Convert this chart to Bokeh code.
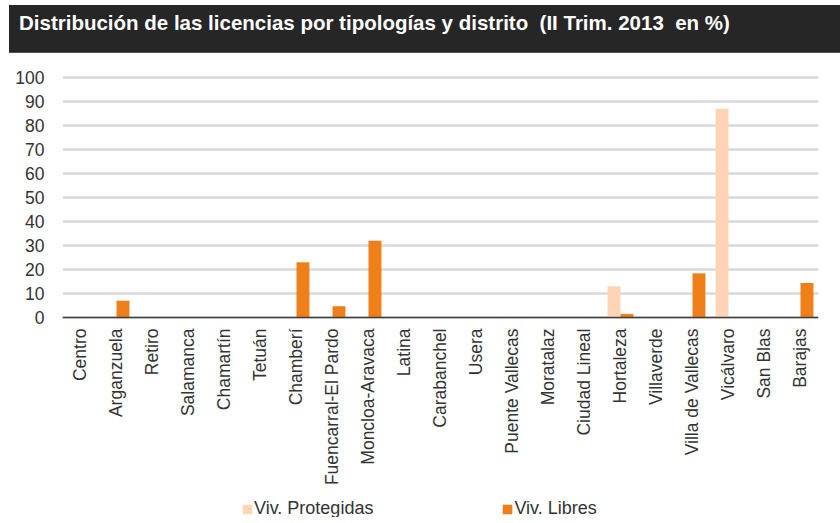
import math
from bokeh.plotting import figure
from bokeh.models import (ColumnDataSource, FactorRange, Legend, LegendItem,
                          Div, FixedTicker, Range1d)
from bokeh.transform import dodge
from bokeh.layouts import column
from bokeh.embed import file_html
from bokeh.resources import INLINE

title_text = "Distribución de las licencias por tipologías y distrito  (II Trim. 2013  en %)"

districts = ["Centro", "Arganzuela", "Retiro", "Salamanca", "Chamartín", "Tetuán",
             "Chamberí", "Fuencarral-El Pardo", "Moncloa-Aravaca", "Latina",
             "Carabanchel", "Usera", "Puente Vallecas", "Moratalaz", "Ciudad Lineal",
             "Hortaleza", "Villaverde", "Villa de Vallecas", "Vicálvaro", "San Blas",
             "Barajas"]
protegidas = [0, 0, 0, 0, 0, 0, 0, 0, 0, 0, 0, 0, 0, 0, 0, 13.0, 0, 0, 87.0, 0, 0]
libres = [0, 7.0, 0, 0, 0, 0, 23.0, 4.7, 32.0, 0, 0, 0, 0, 0, 0, 1.5, 0, 18.4, 0, 0, 14.4]
series_names = ["Viv. Protegidas", "Viv. Libres"]
y_ticks = [0, 10, 20, 30, 40, 50, 60, 70, 80, 90, 100]
colors = ["#FCD5B4", "#EF7F1A"]

FONT = "Liberation Sans"

src = ColumnDataSource(dict(district=districts, prot=protegidas, lib=libres))

header = Div(
    text=f'<div style="margin-left:4px;width:836px;height:48px;box-sizing:border-box;'
         f'background-color:#262626;border-bottom:1px solid #555555;padding-left:10px;'
         f'line-height:36px;white-space:pre;font-family:\'{FONT}\',Arial,sans-serif;'
         f'font-size:20.5px;font-weight:bold;color:#ffffff;">{title_text}</div>',
    width=840, height=48,
    styles={"overflow": "hidden"},
)

# frame: 442 px tall, 2.4 px per unit, top at 100.83
p = figure(x_range=FactorRange(factors=districts, range_padding=0),
           y_range=Range1d(-83.33, 100.83),
           width=840, height=459, output_backend="svg", toolbar_location=None,
           min_border_left=62, min_border_right=22, min_border_top=17,
           min_border_bottom=0)
p.outline_line_color = None
p.background_fill_color = "white"
p.border_fill_color = "white"

r1 = p.vbar(x=dodge("district", -0.18, range=p.x_range), top="prot", width=0.36,
            source=src, fill_color=colors[0], line_color=None)
r2 = p.vbar(x=dodge("district", 0.18, range=p.x_range), top="lib", width=0.36,
            source=src, fill_color=colors[1], line_color=None)

p.xgrid.grid_line_color = None
p.ygrid.grid_line_color = "#D9D9D9"
p.ygrid.grid_line_width = 2.5
p.yaxis.ticker = FixedTicker(ticks=y_ticks)

p.yaxis.axis_line_color = None
p.yaxis.major_tick_line_color = None
p.yaxis.minor_tick_line_color = None
p.yaxis.major_label_standoff = 12
p.yaxis.major_label_text_font = FONT
p.yaxis.major_label_text_font_size = "17.5px"
p.yaxis.major_label_text_color = "#333333"

p.xaxis.fixed_location = 0
p.xaxis.axis_line_color = "#404040"
p.xaxis.axis_line_width = 1.5
p.xaxis.major_tick_line_color = None
p.xaxis.minor_tick_line_color = None
p.xaxis.major_label_orientation = math.pi / 2
p.xaxis.major_label_standoff = 5
p.xaxis.major_label_text_font = FONT
p.xaxis.major_label_text_font_size = "17.5px"
p.xaxis.major_label_text_color = "#333333"

legend = Legend(items=[LegendItem(label=series_names[0], renderers=[r1]),
                       LegendItem(label=series_names[1], renderers=[r2])],
                location=(179, -2), orientation="horizontal",
                glyph_width=12, glyph_height=12, label_standoff=1,
                label_height=16, padding=0, margin=0, spacing=128,
                border_line_color=None, background_fill_alpha=0,
                label_text_font=FONT, label_text_font_size="18px",
                label_text_color="#333333")
p.add_layout(legend, "center")

layout = column(header, p, spacing=0)
open("out.html", "w").write(file_html(layout, INLINE))
